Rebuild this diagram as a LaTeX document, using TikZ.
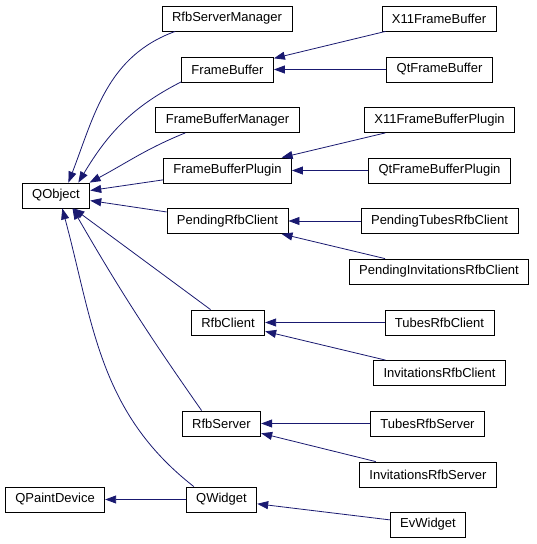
\documentclass[tikz,border=0pt]{standalone}
\usepackage{fontspec}
\setmainfont{Liberation Sans}
\usepackage{xcolor}
\usetikzlibrary{arrows.meta}

\definecolor{edgeblue}{RGB}{25,25,112}

\begin{document}
\begin{tikzpicture}[
  x=1pt,y=1pt,
  cls/.style={draw,line width=0.8pt,fill=white,minimum height=25pt,inner xsep=10pt,inner ysep=0pt,font=\fontsize{13}{15}\selectfont},
  arrow/.style={edgeblue,line width=0.8pt,-{Triangle[length=11pt,width=8pt]}}
]
\useasboundingbox (0,0) rectangle (537,544);

% base classes
\node[cls] (qobject) at (56,348.5) {QObject};
\node[cls] (qpaint) at (55,44.5) {QPaintDevice};

% middle column
\node[cls] (rfbsm) at (227,525.5) {RfbServerManager};
\node[cls] (fb) at (227.5,474.5) {FrameBuffer};
\node[cls] (fbm) at (227.5,424) {FrameBufferManager};
\node[cls] (fbp) at (227.5,373.5) {FrameBufferPlugin};
\node[cls] (prc) at (227.5,323) {PendingRfbClient};
\node[cls] (rfbclient) at (228,221.5) {RfbClient};
\node[cls] (rfbserver) at (221.5,120.5) {RfbServer};
\node[cls] (qwidget) at (221.5,44.5) {QWidget};

% right column
\node[cls] (x11fb) at (439,525.5) {X11FrameBuffer};
\node[cls] (qtfb) at (439.5,474.5) {QtFrameBuffer};
\node[cls] (x11fbp) at (439.5,424) {X11FrameBufferPlugin};
\node[cls] (qtfbp) at (439.5,373.5) {QtFrameBufferPlugin};
\node[cls] (ptrc) at (439.5,323) {PendingTubesRfbClient};
\node[cls] (pirc) at (439,272.5) {PendingInvitationsRfbClient};
\node[cls] (trc) at (439.5,221.5) {TubesRfbClient};
\node[cls] (irc) at (439.5,171) {InvitationsRfbClient};
\node[cls] (trs) at (427.5,120.5) {TubesRfbServer};
\node[cls] (irs) at (428,69.5) {InvitationsRfbServer};
\node[cls] (evw) at (428,19.5) {EvWidget};

% inheritance towards QObject
\draw[arrow] (rfbsm.194) to[out=200,in=69] (qobject.46);
\draw[arrow] (fb.195) to[out=207,in=59] (qobject.30);
\draw[arrow] (fbm.197) to[out=202,in=28] (qobject.21);
\draw[arrow] (fbp) -- (qobject);
\draw[arrow] (prc) -- (qobject);
\draw[arrow] (rfbclient) -- (qobject);
\draw[arrow] (rfbserver.147) to[out=125,in=-60] (qobject.-38);
\draw[arrow] (qwidget.155) to[out=142,in=-75] (qobject.-64);
\draw[arrow] (qwidget) -- (qpaint);

% subclasses
\draw[arrow] (x11fb) -- (fb);
\draw[arrow] (qtfb) -- (fb);
\draw[arrow] (x11fbp) -- (fbp);
\draw[arrow] (qtfbp) -- (fbp);
\draw[arrow] (ptrc) -- (prc);
\draw[arrow] (pirc) -- (prc);
\draw[arrow] (trc) -- (rfbclient);
\draw[arrow] (irc) -- (rfbclient);
\draw[arrow] (trs) -- (rfbserver);
\draw[arrow] (irs) -- (rfbserver);
\draw[arrow] (evw) -- (qwidget);
\end{tikzpicture}
\end{document}
